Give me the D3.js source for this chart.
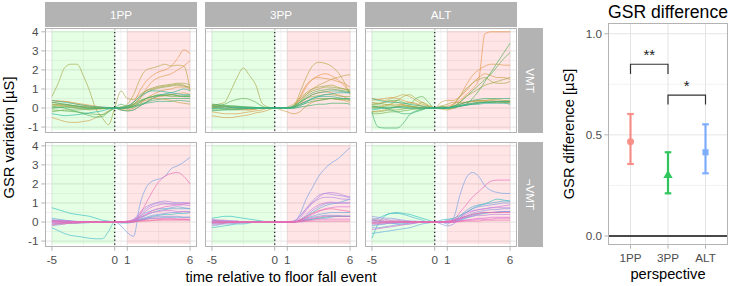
<!DOCTYPE html>
<html><head><meta charset="utf-8">
<script src="https://cdn.jsdelivr.net/npm/d3@7"></script>
<style>body{margin:0;background:#fff} svg{display:block;font-family:"Liberation Sans",Arial,sans-serif}</style>
</head><body><svg id="c" width="733" height="286"></svg>
<script>
// ---------- data ----------
const times = [-5,-4.5,-4,-3.5,-3,-2.5,-2,-1.5,-1,-0.5,0,0.5,1,1.5,2,2.5,3,3.5,4,4.5,5,5.5,6];
const perspectives = ["1PP","3PP","ALT"];
const conditions = ["VMT","¬VMT"];
const xTicks = [-5,0,1,6];
const yTicks = [-1,0,1,2,3,4];
const diffTicks = [0.0,0.5,1.0];

const gsr_VMT_1PP = [
[.4,.38,.35,.3,.25,.2,.15,.1,.05,.02,0, 0,.05,.3,.9,1.4,1.7,1.9,2.0,2.2,2.6,3.05,2.85],
[.3,.33,.35,.3,.2,.15,.1,.05,0,0,0, -.05,0,.2,.5,1.0,1.4,1.6,1.7,1.8,2.0,2.2,2.5],
[.2,.15,.1,.05,0,-.05,-.1,-.08,-.05,0,0, -.1,-.1,0,.2,.5,.7,.85,.95,1.0,1.1,1.1,1.0],
[-.5,-.6,-.7,-.75,-.75,-.7,-.65,-.5,-.35,-.15,0, -.1,-.15,-.1,.1,.3,.5,.6,.65,.7,.75,.8,.7],
[.3,.25,.2,.15,.1,.08,.05,.03,0,0,0, 0,0,.1,.3,.4,.5,.5,.45,.4,.3,.25,.2],
[.1,.15,.2,.15,.1,.05,0,0,0,0,0, .05,.2,.7,1.5,2.0,2.1,2.2,2.3,2.2,2.25,2.2,.9],
[.6,1.3,2.1,2.3,2.3,1.7,.9,-.05,-.5,-.88,0, .9,.5,.45,.7,.9,1.0,1.1,1.15,1.2,1.25,1.2,1.0],
[0,.05,.1,.08,.05,.03,0,0,0,0,0, 0,.1,.3,.6,.9,1.05,1.15,1.2,1.25,1.3,1.3,1.2],
[.2,.18,.15,.12,.1,.08,.05,.03,0,0,0, 0,0,.2,.5,.8,.95,1.05,1.1,1.15,1.2,1.15,1.1],
[-.2,-.15,-.1,-.1,-.1,-.08,-.05,-.03,0,0,0, 0,.05,.15,.35,.5,.6,.65,.65,.7,.65,.6,.6],
[-.1,-.12,-.15,-.18,-.2,-.25,-.3,-.33,-.35,-.2,0, .05,.1,.2,.4,.5,.6,.65,.65,.6,.6,.65,.65],
[.1,.05,0,-.1,-.2,-.3,-.4,-.48,-.45,-.2,0, .2,.1,.1,.3,.5,.6,.7,.7,.7,.65,.6,.6],
[0,.02,.05,.02,0,-.02,-.05,-.03,0,0,0, 0,0,.1,.2,.3,.4,.45,.5,.5,.5,.5,.5],
[.3,.25,.2,.15,.1,.05,0,0,0,0,0, 0,0,.05,.15,.25,.3,.35,.35,.35,.4,.38,.35],
[.4,.35,.3,.25,.2,.15,.1,.07,.05,.02,0, -.1,-.15,-.1,.1,.3,.5,.65,.75,.8,.9,1.0,.9],
[-.3,-.35,-.4,-.38,-.35,-.3,-.25,-.2,-.15,-.05,0, 0,.1,.3,.6,.8,.9,.9,.85,.8,.75,.7,.7]
];
const gsr_VMT_3PP = [
[.1,.05,0,-.05,-.1,-.1,-.1,-.05,0,0,0, 0,0,.05,.5,1.1,1.5,1.7,1.8,1.7,1.5,1.2,.8],
[-.2,-.25,-.3,-.3,-.3,-.25,-.2,-.15,-.1,0,0, 0,0,.1,.6,1.2,1.5,1.6,1.55,1.5,1.4,1.3,1.1],
[-.4,-.45,-.5,-.5,-.45,-.4,-.35,-.25,-.2,-.1,0, 0,0,0,.2,.5,.7,.8,.85,.8,.7,.6,.4],
[.2,.15,.1,.05,0,-.05,-.1,-.05,0,0,0, -.1,-.2,-.3,-.2,.1,.3,.4,.45,.5,.45,.4,.3],
[0,.05,.1,.05,0,0,0,0,0,0,0, 0,0,.1,.4,.7,1.0,1.2,1.35,1.5,1.6,1.7,1.75],
[.1,.1,.1,.05,.05,0,0,0,0,0,0, 0,0,.1,.8,1.6,2.2,2.4,2.35,2.2,1.9,1.4,.7],
[.1,.2,.3,.9,1.6,2.1,1.7,1.2,.25,.05,0, 0,.05,.2,.5,.8,1.0,1.1,1.15,1.2,1.1,1.0,.9],
[0,.02,.05,.05,.05,.03,0,0,0,0,0, 0,0,.1,.4,.7,.9,1.0,1.1,1.1,1.05,1.0,.95],
[.15,.12,.1,.1,.08,.05,.05,.03,0,0,0, 0,0,.05,.3,.5,.6,.65,.7,.7,.65,.6,.6],
[-.1,-.1,-.08,-.05,-.05,-.03,0,0,0,0,0, 0,0,.05,.2,.35,.45,.5,.5,.5,.45,.45,.4],
[.05,.1,.2,.35,.45,.5,.45,.3,.1,0,0, 0,0,.05,.3,.6,.8,.9,.95,1.0,.95,.9,.85],
[0,0,-.05,-.05,-.05,-.03,0,0,0,0,0, 0,0,.05,.15,.25,.35,.4,.45,.5,.5,.5,.45],
[.2,.18,.15,.12,.1,.08,.05,.03,0,0,0, 0,0,0,.05,.1,.15,.2,.2,.25,.25,.25,.2],
[-.15,-.12,-.1,-.1,-.08,-.05,-.03,0,0,0,0, 0,.02,.1,.3,.5,.7,.8,.85,.9,.9,.85,.8],
[.1,.1,.08,.05,.05,.03,0,0,0,0,0, 0,0,.05,.2,.35,.5,.6,.6,.6,.55,.5,.5],
[-.05,0,0,.02,.02,.01,0,0,0,0,0, 0,0,0,.1,.3,.5,.6,.7,.75,.8,.8,.8]
];
const gsr_VMT_ALT = [
[.2,.25,.3,.35,.3,.2,.1,.05,0,0,0, .05,.1,.2,.4,.7,1.0,1.5,3.9,4.0,4.0,4.0,4.0],
[.4,.45,.5,.55,.5,.4,.3,.2,.1,.05,0, 0,0,.2,.6,1.2,1.7,2.0,2.2,2.3,2.3,2.25,2.25],
[-.2,-.15,-.1,0,.1,.2,.3,.25,.1,0,0, .3,.4,.4,.6,.9,1.3,1.6,1.8,1.7,1.6,1.6,1.5],
[.5,.45,.4,.5,.6,.7,.6,.4,.2,.1,0, 0,0,.1,.2,.3,.35,.35,.35,.3,.3,.3,.3],
[.1,.1,.15,.2,.2,.15,.1,.1,.3,.15,0, -.05,-.1,0,.2,.3,.35,.4,.4,.4,.35,.35,.35],
[0,.05,.1,.2,.4,.6,.7,.5,.3,.1,0, .1,.2,.3,.3,.3,.35,.4,.4,.45,.45,.4,.4],
[.3,.25,.2,.15,.1,.1,.1,.05,.05,0,0, 0,0,.2,.6,1.0,1.3,1.5,1.6,1.4,1.3,1.3,1.4],
[-.2,-.2,-.15,-.1,-.1,-.05,0,0,0,0,0, 0,0,.1,.3,.6,.8,1.0,1.2,1.3,1.4,1.5,1.6],
[.1,.05,0,0,.05,.1,.1,.05,0,0,0, 0,0,0,.1,.2,.25,.3,.3,.3,.35,.3,.3],
[-.3,-.3,-.25,-.2,-.2,-.15,-.1,-.05,-.05,0,0, 0,0,0,.1,.15,.2,.25,.3,.3,.3,.3,.25],
[.2,.2,.3,.4,.4,.3,.2,.5,.6,.3,0, .1,.05,.1,.3,.6,.9,1.2,1.5,1.8,2.2,2.6,2.9],
[0,0,.05,.05,.05,0,0,0,0,0,0, 0,0,.05,.1,.2,.5,.9,1.4,1.9,2.4,2.9,3.4],
[-.2,-1.0,-1.05,-1.05,-1.05,-.8,-.35,-.15,-.05,0,0, 0,0,.05,.1,.15,.2,.25,.3,.3,.35,.35,.35],
[.1,.05,0,-.1,-.2,-.3,-.3,-.2,-.1,0,0, 0,0,.1,.2,.3,.4,.45,.5,.5,.5,.5,.5],
[.5,.4,.35,.3,.3,.25,.2,.15,.1,.05,0, 0,0,.05,.15,.2,.25,.3,.3,.35,.35,.35,.35],
[-.1,-.05,0,0,.05,.05,0,0,0,0,0, 0,0,.05,.1,.15,.2,.2,.25,.25,.25,.25,.2]
];
const gsr_notVMT_1PP = [
[.75,.65,.55,.45,.4,.35,.3,.2,.1,.05,0, -.05,-.05,0,.1,.2,.3,.35,.4,.4,.45,.45,.5],
[-.3,-.45,-.6,-.7,-.75,-.8,-.85,-.88,-.88,-.5,0, 0,0,.05,.1,.15,.2,.2,.25,.25,.25,.25,.25],
[.2,.15,.1,.05,0,0,0,0,0,0,0, 0,0,.05,.2,.35,.5,.6,.65,.7,.7,.7,.7],
[-.1,-.1,-.05,-.05,-.05,0,0,0,0,0,0, 0,0,.1,.3,.5,.6,.7,.7,.75,.8,.75,.7],
[.1,.05,0,-.05,-.05,-.05,-.03,0,0,0,0, -.2,-.55,-.75,.9,1.8,2.15,2.25,2.4,2.8,2.95,3.15,3.4],
[.05,.05,.05,.05,.03,.02,0,0,0,0,0, 0,0,.05,.15,.25,.35,.4,.45,.5,.5,.55,.55],
[-.2,-.15,-.1,-.05,-.05,0,0,0,0,0,0, 0,0,0,.1,.2,.25,.3,.3,.3,.3,.25,.25],
[.1,.08,.05,.03,.02,0,0,0,0,0,0, 0,0,.1,.4,.7,.9,1.0,1.0,.95,1.0,1.0,.95],
[0,0,0,0,0,0,0,0,0,0,0, 0,.05,.15,.5,.8,.95,1.05,1.1,1.05,1.0,1.0,1.0],
[-.05,-.05,-.03,0,0,0,0,0,0,0,0, 0,0,.05,.3,.6,.8,.9,.95,.95,.9,.9,.85],
[.1,.1,.08,.05,.03,.02,0,0,0,0,0, 0,0,.05,.2,.4,.5,.55,.6,.6,.55,.55,.5],
[-.1,-.08,-.05,-.05,-.03,0,0,0,0,0,0, 0,.02,.05,.1,.15,.2,.2,.2,.2,.15,.15,.1],
[0,-.02,-.03,-.02,0,0,0,0,0,0,0, 0,.05,.1,.25,.4,.6,.7,.8,.85,.9,.95,1.0],
[.05,.05,.05,.03,.02,0,0,0,0,0,0, 0,0,.05,.4,1.0,1.6,2.1,2.4,2.55,2.6,2.4,2.0],
[.05,.03,0,0,0,0,0,0,0,0,0, 0,0,0,.05,.05,.08,.1,.1,.1,.1,.1,.1],
[-.15,-.1,-.1,-.05,-.05,-.03,0,0,0,0,0, 0,0,.02,.05,.1,.1,.12,.15,.15,.15,.15,.15]
];
const gsr_notVMT_3PP = [
[.2,.25,.3,.3,.25,.2,.15,.1,.05,0,0, 0,0,0,.05,.1,.15,.2,.25,.3,.3,.3,.3],
[-.3,-.25,-.2,-.15,-.1,-.1,-.05,0,0,0,0, 0,0,0,.05,.1,.15,.2,.2,.25,.3,.3,.3],
[-.1,-.1,-.05,-.05,-.05,0,0,0,0,0,0, 0,0,0,.1,.3,.5,.7,.85,.95,1.0,1.1,1.2],
[.1,.05,.05,.05,0,0,0,0,0,0,0, 0,0,0,.1,.2,.3,.4,.45,.5,.5,.5,.5],
[0,0,0,0,0,0,0,0,0,0,0, 0,0,0,.4,1.2,1.8,2.4,2.8,3.1,3.3,3.6,3.9],
[-.05,0,0,0,0,0,0,0,0,0,0, 0,0,0,.05,.15,.25,.3,.35,.35,.35,.3,.3],
[.1,.1,.05,.05,.05,0,0,0,0,0,0, 0,0,0,.1,.3,.6,.8,.95,1.0,1.0,1.0,1.0],
[0,0,0,0,0,0,0,0,0,0,0, 0,.02,.05,.3,.7,1.1,1.4,1.5,1.45,1.4,1.35,1.3],
[-.2,-.15,-.1,-.1,-.05,-.05,0,0,0,0,0, 0,0,.05,.3,.7,1.0,1.2,1.3,1.3,1.25,1.2,1.2],
[.05,.05,.05,0,0,0,0,0,0,0,0, 0,0,0,.2,.6,1.0,1.3,1.5,1.55,1.5,1.4,1.3],
[-.1,-.1,-.05,0,0,0,0,0,0,0,0, 0,0,0,.1,.4,.7,.9,1.0,1.05,1.0,1.0,1.0],
[.15,.1,.1,.05,.05,0,0,0,0,0,0, 0,0,0,.05,.2,.4,.55,.7,.75,.8,.8,.8],
[0,0,0,0,0,0,0,0,0,0,0, 0,0,0,0,.05,.1,.15,.15,.15,.15,.15,.15],
[-.05,-.05,-.05,0,0,0,0,0,0,0,0, 0,0,0,.05,.1,.2,.25,.3,.3,.3,.3,.3],
[.05,.05,0,0,0,0,0,0,0,0,0, 0,.02,.02,.05,.05,.05,.05,.05,.05,.05,.05,.05],
[0,-.02,-.02,0,0,0,0,0,0,0,0, 0,0,0,.1,.25,.45,.6,.65,.7,.65,.6,.55]
];
const gsr_notVMT_ALT = [
[-.85,-.1,.3,.45,.5,.45,.4,.3,.2,.1,0, .1,.15,.2,.35,.5,.7,.85,.95,1.1,1.2,1.15,1.1],
[.1,.2,.35,.45,.45,.4,.3,.2,.1,0,0, 0,0,.05,.1,.2,.3,.4,.45,.5,.5,.55,.55],
[.1,.05,0,-.05,-.1,-.1,-.05,0,0,0,0, 0,0,.05,.3,.6,.8,.9,.95,1.0,1.05,1.1,1.1],
[-.6,-.55,-.5,-.45,-.4,-.35,-.3,-.2,-.1,-.05,0, 0,.1,.15,.2,.3,.4,.45,.5,.5,.5,.55,.55],
[-.2,-.15,-.1,-.05,-.05,0,0,0,0,0,0, 0,-.1,.2,1.4,2.3,2.6,2.4,1.9,1.65,1.55,1.5,1.5],
[-.3,-.3,-.25,-.2,-.15,-.1,-.1,-.05,0,0,0, -.1,-.2,-.1,.2,.5,.7,.8,.85,.9,.95,1.0,1.0],
[.3,.25,.2,.2,.15,.1,.05,.05,0,0,0, 0,0,.05,.15,.3,.45,.55,.6,.65,.65,.7,.7],
[-.1,-.1,-.1,-.05,-.05,0,0,0,0,0,0, 0,0,0,.1,.25,.35,.45,.5,.5,.55,.55,.55],
[.05,.05,.05,.05,0,0,0,0,0,0,0, 0,.05,.1,.3,.5,.6,.65,.7,.75,.75,.75,.75],
[-.05,0,0,0,0,0,0,0,0,0,0, 0,0,.05,.15,.25,.3,.35,.35,.4,.4,.4,.4],
[.2,.15,.15,.1,.1,.05,.05,0,0,0,0, 0,0,.05,.2,.4,.55,.65,.7,.75,.8,.85,.9],
[-.4,-.35,-.3,-.25,-.2,-.15,-.1,-.05,0,0,0, 0,0,0,.05,.1,.15,.2,.2,.25,.25,.25,.25],
[0,0,0,0,0,0,0,0,0,0,0, 0,0,0,.05,.1,.1,.15,.15,.15,.2,.2,.2],
[-.1,-.1,-.05,-.05,0,0,0,0,0,0,0, 0,0,.1,.5,.9,1.3,1.6,1.9,2.15,2.2,2.2,2.2],
[.1,.1,.05,.05,.05,0,0,0,0,0,0, 0,0,0,.02,.05,.05,.05,.1,.1,.1,.1,.1],
[-.05,-.05,0,0,0,0,0,0,0,0,0, 0,.05,.1,.2,.3,.4,.45,.5,.5,.5,.5,.5]
];

const diffMean  = [0.466, 0.300, 0.414];
const diffLower = [0.356, 0.211, 0.310];
const diffUpper = [0.603, 0.414, 0.552];
const sigFrom   = ["1PP","3PP"];
const sigTo     = ["3PP","ALT"];
const sigLabel  = ["**","*"];
const sigTop    = [0.849, 0.696];
const sigTip    = [0.801, 0.650];

// ---------- layout ----------
const svg = d3.select("#c");
const grid = "#e4e4e4", border = "#b3b3b3", txt = "#4d4d4d";
const panelW = 152, panelH = 105, gapX = 8;
const panelX0 = 45, rowY = [28, 142];
const data = {
  "VMT": {"1PP": gsr_VMT_1PP, "3PP": gsr_VMT_3PP, "ALT": gsr_VMT_ALT},
  "¬VMT": {"1PP": gsr_notVMT_1PP, "3PP": gsr_notVMT_3PP, "ALT": gsr_notVMT_ALT}
};
const palette = {
  "VMT": ["#e8964e", "#c9a24a", "#93aa45", "#45b05a", "#2ab3a0"],
  "¬VMT": ["#33c0c2", "#6fa0e4", "#a78ae6", "#dc6fd4", "#f26b9c"]
};

conditions.forEach((cond, r) => {
  perspectives.forEach((p, c) => {
    const x0 = panelX0 + c * (panelW + gapX), y0 = rowY[r];
    const x = d3.scaleLinear().domain([-5.55, 6.55]).range([x0, x0 + panelW]);
    const y = d3.scaleLinear().domain([-1.31, 4.2]).range([y0 + panelH, y0]);
    const g = svg.append("g");
    g.append("rect").attr("x", x0).attr("y", y0).attr("width", panelW).attr("height", panelH).attr("fill", "#fff");
    [-2.5, 0.5, 3.5].forEach(v => g.append("line").attr("x1", x(v)).attr("x2", x(v)).attr("y1", y0).attr("y2", y0 + panelH).attr("stroke", grid).attr("stroke-width", 0.5));
    [-0.5, 0.5, 1.5, 2.5, 3.5].forEach(v => g.append("line").attr("y1", y(v)).attr("y2", y(v)).attr("x1", x0).attr("x2", x0 + panelW).attr("stroke", grid).attr("stroke-width", 0.5));
    xTicks.forEach(v => g.append("line").attr("x1", x(v)).attr("x2", x(v)).attr("y1", y0).attr("y2", y0 + panelH).attr("stroke", grid).attr("stroke-width", 1));
    yTicks.forEach(v => g.append("line").attr("y1", y(v)).attr("y2", y(v)).attr("x1", x0).attr("x2", x0 + panelW).attr("stroke", grid).attr("stroke-width", 1));
    g.append("rect").attr("x", x(-5)).attr("width", x(0) - x(-5)).attr("y", y(4.05)).attr("height", y(-1.15) - y(4.05)).attr("fill", "#00ff00").attr("fill-opacity", 0.1);
    g.append("rect").attr("x", x(1)).attr("width", x(6) - x(1)).attr("y", y(4.05)).attr("height", y(-1.15) - y(4.05)).attr("fill", "#ff0000").attr("fill-opacity", 0.1);
    const series = data[cond][p];
    const pal = palette[cond];
    const col = d3.scaleLinear().domain(pal.map((_, k) => k * (series.length - 1) / (pal.length - 1))).range(pal).interpolate(d3.interpolateLab);
    const line = d3.line().x((d, i) => x(times[i])).y(d => y(d)).curve(d3.curveMonotoneX);
    series.forEach((s, i) => {
      g.append("path").attr("d", line(s)).attr("fill", "none")
        .attr("stroke", col(i)).attr("stroke-width", 0.9).attr("stroke-opacity", 0.75);
    });
    g.append("line").attr("x1", x(0)).attr("x2", x(0)).attr("y1", y0).attr("y2", y0 + panelH)
      .attr("stroke", "#222").attr("stroke-width", 1.3).attr("stroke-dasharray", "1.3,2.6");
    g.append("rect").attr("x", x0 + 0.5).attr("y", y0 + 0.5).attr("width", panelW - 1).attr("height", panelH - 1)
      .attr("fill", "none").attr("stroke", border).attr("stroke-width", 1);
    if (r === 0) {
      svg.append("rect").attr("x", x0).attr("y", 2).attr("width", panelW).attr("height", 25).attr("fill", border);
      svg.append("text").attr("x", x0 + panelW / 2).attr("y", 14.5).attr("dy", "0.35em").attr("text-anchor", "middle")
        .attr("fill", "#fff").attr("font-size", 11.7).text(p);
    }
    if (c === 2) {
      svg.append("rect").attr("x", x0 + panelW + 1).attr("y", y0).attr("width", 25).attr("height", panelH).attr("fill", border);
      svg.append("text").attr("transform", `translate(${x0 + panelW + 13.5},${y0 + panelH / 2}) rotate(90)`)
        .attr("dy", "0.35em").attr("text-anchor", "middle").attr("fill", "#fff").attr("font-size", 11.7).text(cond);
    }
    if (c === 0) {
      yTicks.forEach(v => {
        svg.append("line").attr("x1", x0 - 3.7).attr("x2", x0).attr("y1", y(v)).attr("y2", y(v)).attr("stroke", border);
        svg.append("text").attr("x", x0 - 6.5).attr("y", y(v)).attr("dy", "0.35em").attr("text-anchor", "end")
          .attr("fill", txt).attr("font-size", 11.7).text(v);
      });
    }
    if (r === 1) {
      xTicks.forEach(v => {
        svg.append("line").attr("x1", x(v)).attr("x2", x(v)).attr("y1", y0 + panelH).attr("y2", y0 + panelH + 3.7).attr("stroke", border);
        svg.append("text").attr("x", x(v)).attr("y", y0 + panelH + 17).attr("text-anchor", "middle")
          .attr("fill", txt).attr("font-size", 11.7).text(v);
      });
    }
  });
});
svg.append("text").attr("x", (panelX0 + panelX0 + 3 * panelW + 2 * gapX) / 2).attr("y", 282).attr("text-anchor", "middle")
  .attr("font-size", 14.7).attr("fill", "#000").text("time relative to floor fall event");
svg.append("text").attr("transform", `translate(14,${(rowY[0] + rowY[1] + panelH) / 2}) rotate(-90)`).attr("text-anchor", "middle")
  .attr("font-size", 14.7).attr("fill", "#000").text("GSR variation [µS]");

// ---------- right panel ----------
const rx0 = 608, rx1 = 728, ry0 = 23, ry1 = 245;
const xc = d3.scalePoint().domain(perspectives).range([rx0, rx1]).padding(0.6);
const yd = d3.scaleLinear().domain([-0.0445, 1.053]).range([ry1, ry0]);
const rg = svg.append("g");
rg.append("rect").attr("x", rx0).attr("y", ry0).attr("width", rx1 - rx0).attr("height", ry1 - ry0).attr("fill", "#fff");
[0.25, 0.75].forEach(v => rg.append("line").attr("x1", rx0).attr("x2", rx1).attr("y1", yd(v)).attr("y2", yd(v)).attr("stroke", grid).attr("stroke-width", 0.5));
diffTicks.forEach(v => rg.append("line").attr("x1", rx0).attr("x2", rx1).attr("y1", yd(v)).attr("y2", yd(v)).attr("stroke", grid).attr("stroke-width", 1));
perspectives.forEach(p => rg.append("line").attr("x1", xc(p)).attr("x2", xc(p)).attr("y1", ry0).attr("y2", ry1).attr("stroke", grid).attr("stroke-width", 1));
rg.append("line").attr("x1", rx0).attr("x2", rx1).attr("y1", yd(0)).attr("y2", yd(0)).attr("stroke", "#111").attr("stroke-width", 1.3);
const pcol = ["#F8766D", "#00BA38", "#619CFF"];
perspectives.forEach((p, i) => {
  const cx = xc(p), colr = pcol[i];
  const eg = rg.append("g").attr("opacity", 0.8);
  eg.append("line").attr("x1", cx).attr("x2", cx).attr("y1", yd(diffLower[i])).attr("y2", yd(diffUpper[i])).attr("stroke", colr).attr("stroke-width", 2.2);
  [diffLower[i], diffUpper[i]].forEach(v => eg.append("line").attr("x1", cx - 3.3).attr("x2", cx + 3.3).attr("y1", yd(v)).attr("y2", yd(v)).attr("stroke", colr).attr("stroke-width", 2.2));
  const sym = [d3.symbolCircle, d3.symbolTriangle, d3.symbolSquare][i];
  eg.append("path").attr("d", d3.symbol().type(sym).size(38)()).attr("transform", `translate(${cx},${yd(diffMean[i])})`).attr("fill", colr);
});
sigLabel.forEach((lab, i) => {
  const a = xc(sigFrom[i]), b = xc(sigTo[i]);
  rg.append("path").attr("d", `M${a},${yd(sigTip[i])}V${yd(sigTop[i])}H${b}V${yd(sigTip[i])}`)
    .attr("fill", "none").attr("stroke", "#333").attr("stroke-width", 1.2);
  rg.append("text").attr("x", (a + b) / 2).attr("y", yd(sigTop[i]) - 4).attr("text-anchor", "middle")
    .attr("font-size", 15).attr("fill", "#222").text(lab);
});
rg.append("rect").attr("x", rx0 + 0.5).attr("y", ry0 + 0.5).attr("width", rx1 - rx0 - 1).attr("height", ry1 - ry0 - 1).attr("fill", "none").attr("stroke", border);
diffTicks.forEach(v => {
  svg.append("line").attr("x1", rx0 - 3.7).attr("x2", rx0).attr("y1", yd(v)).attr("y2", yd(v)).attr("stroke", border);
  svg.append("text").attr("x", rx0 - 6).attr("y", yd(v)).attr("dy", "0.35em").attr("text-anchor", "end")
    .attr("fill", txt).attr("font-size", 11.7).text(v.toFixed(1));
});
perspectives.forEach(p => {
  svg.append("line").attr("x1", xc(p)).attr("x2", xc(p)).attr("y1", ry1).attr("y2", ry1 + 3.7).attr("stroke", border);
  svg.append("text").attr("x", xc(p)).attr("y", ry1 + 17).attr("text-anchor", "middle").attr("fill", txt).attr("font-size", 11.7).text(p);
});
svg.append("text").attr("x", (rx0 + rx1) / 2).attr("y", 279).attr("text-anchor", "middle").attr("font-size", 14.7).attr("fill", "#000").text("perspective");
svg.append("text").attr("transform", `translate(574,${(ry0 + ry1) / 2}) rotate(-90)`).attr("text-anchor", "middle")
  .attr("font-size", 14.7).attr("fill", "#000").text("GSR difference [µS]");
svg.append("text").attr("x", (rx0 + rx1) / 2).attr("y", 18).attr("text-anchor", "middle").attr("font-size", 17.6).attr("fill", "#000").text("GSR difference");
</script></body></html>
